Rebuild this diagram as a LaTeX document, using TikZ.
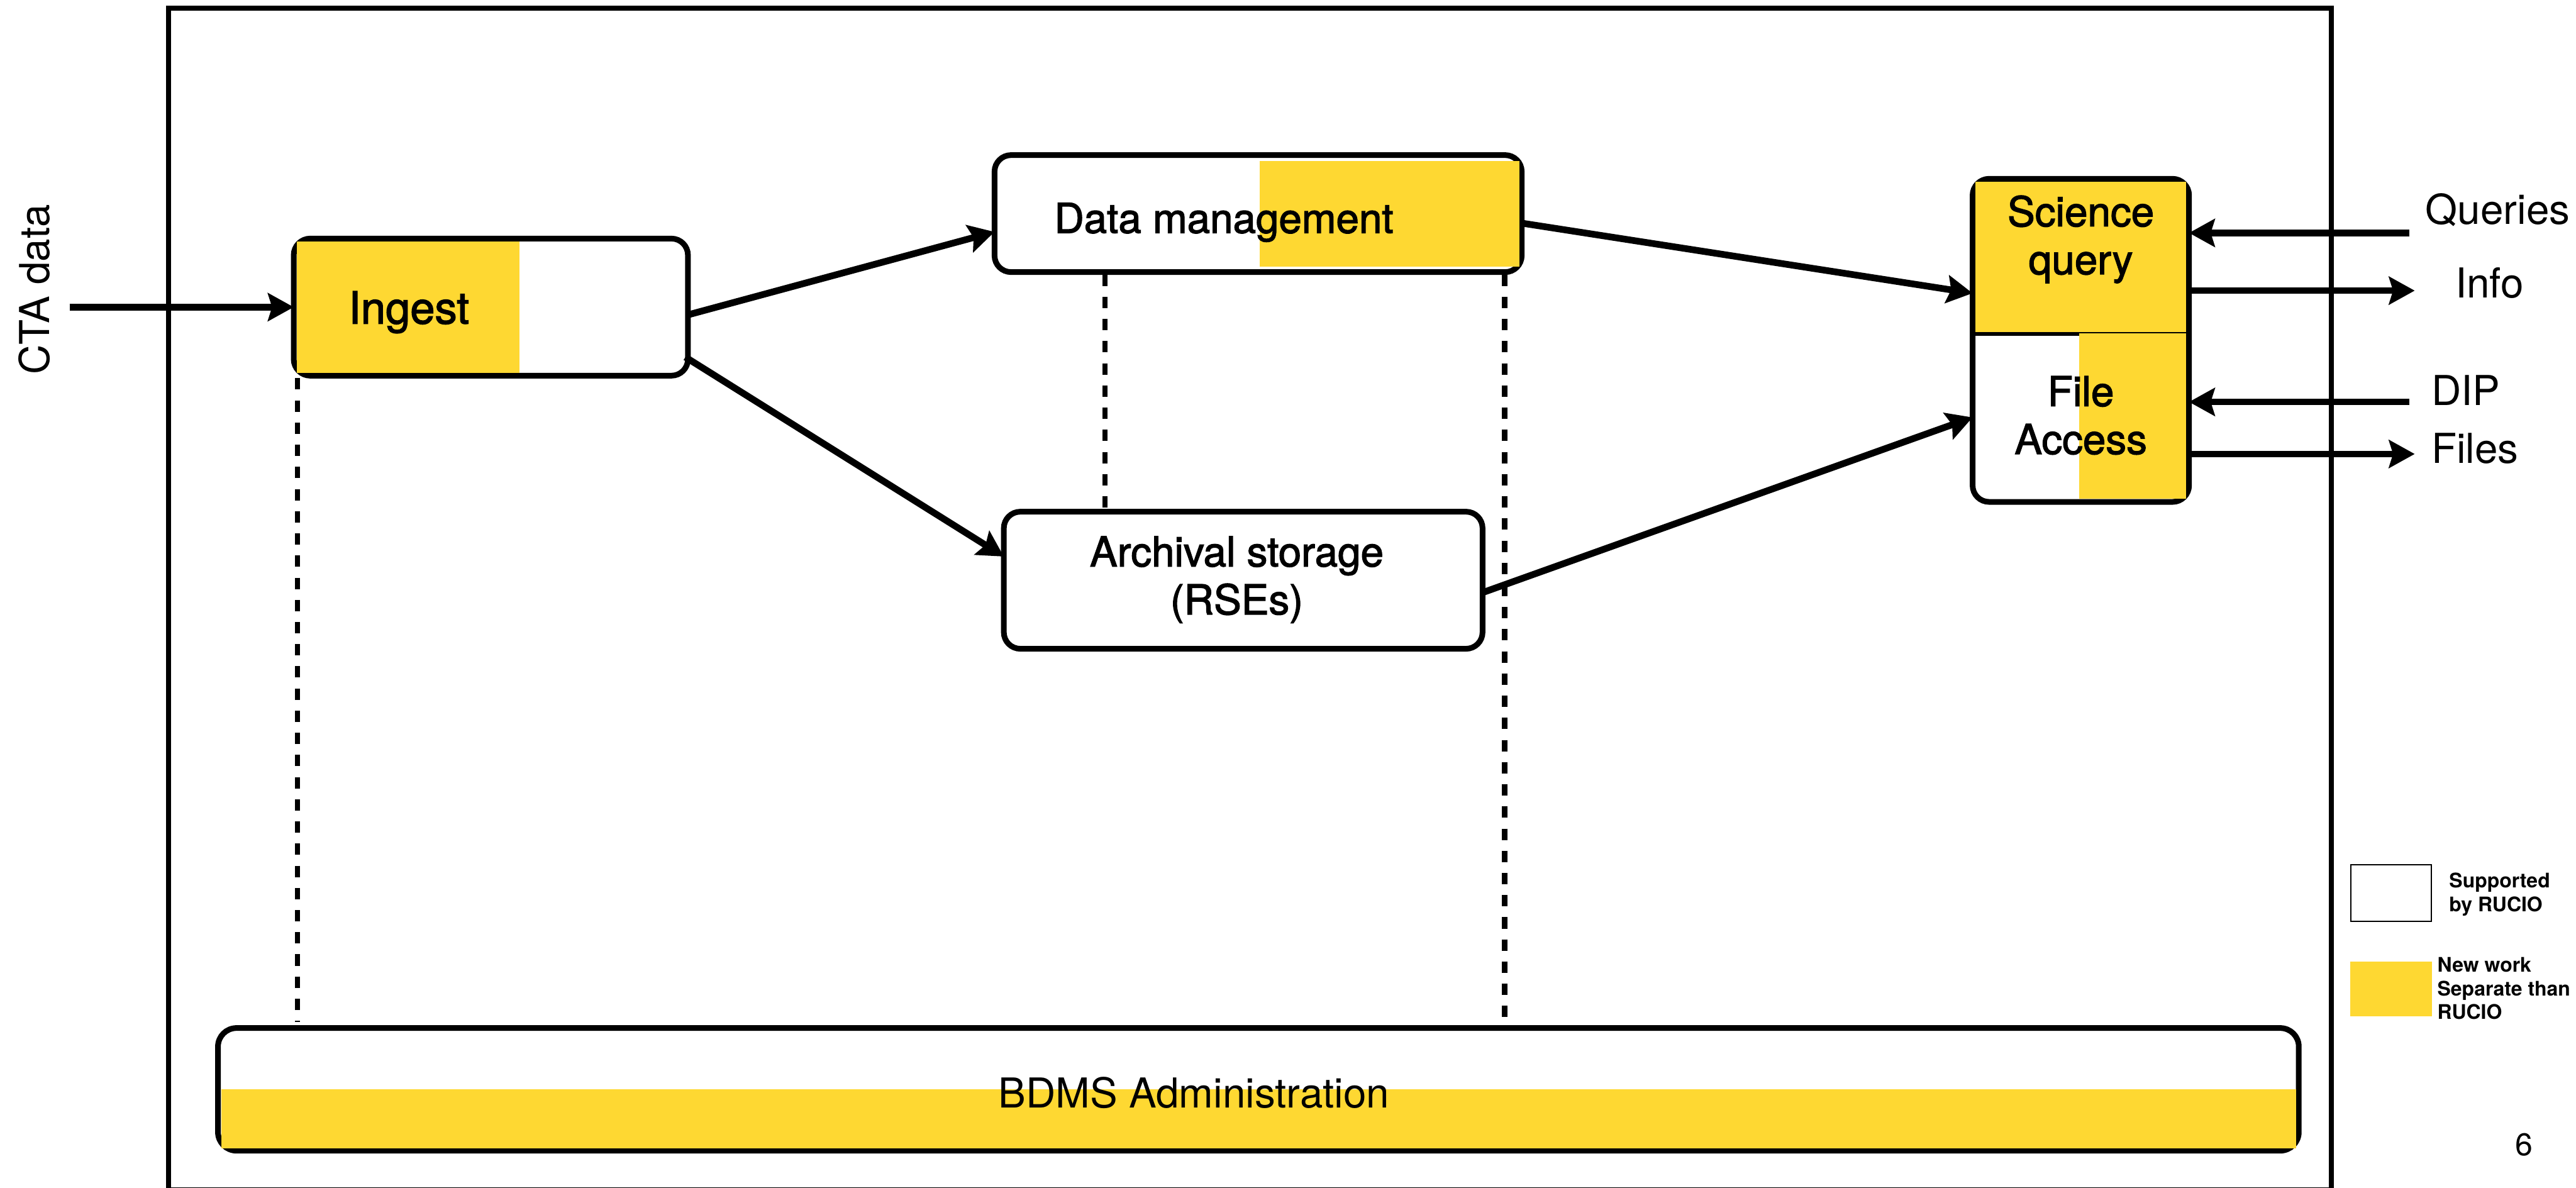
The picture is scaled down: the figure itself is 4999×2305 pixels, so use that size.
\documentclass[tikz,border=0pt]{standalone}
\usepackage{fontspec}
\setmainfont{TeX Gyre Heros}
\newfontfamily\boxfont{TeX Gyre Heros}[FakeBold=2]
\usetikzlibrary{arrows.meta,calc}
\definecolor{ylw}{RGB}{254,216,50}
\begin{document}
\begin{tikzpicture}[x=1pt,y=-1pt,
  every node/.style={inner sep=0pt,outer sep=0pt},
  box/.style={draw,line width=11pt,rounded corners=32pt},
  arr/.style={line width=13pt,-{Stealth[length=50pt,width=54pt,inset=8pt]}},
  dsh/.style={line width=10pt,dash pattern=on 22pt off 21pt},
  lbl/.style={font=\fontsize{80}{93}\selectfont,align=center},
  blbl/.style={font=\boxfont\fontsize{80}{93}\selectfont,align=center},
  leg/.style={font=\bfseries\fontsize{39}{46}\selectfont,align=left}]
\useasboundingbox (0,0) rectangle (4999,2305);
\fill[white] (0,0) rectangle (4999,2305);
% outer frame
\node[draw,line width=10pt,minimum width=4197pt,minimum height=2293pt] (frame) at (2425.5,1162.5) {};
% boxes
\node[box,minimum width=765pt,minimum height=266pt] (ingest) at (952.5,596) {};
\node[box,minimum width=1023pt,minimum height=227pt] (dm) at (2441.5,414.5) {};
\node[box,minimum width=929pt,minimum height=266pt] (arch) at (2412.5,1126) {};
\node[box,minimum width=420pt,minimum height=627pt] (sf) at (4038,660.5) {};
\node[box,rounded corners=36pt,minimum width=4038pt,minimum height=238pt] (bdms) at (2442,2114) {};
% yellow parts
\fill[ylw] (576,469) rectangle (1008,724);
\fill[ylw] (2445,312) rectangle (2948,518);
\fill[ylw] (3834,353) rectangle (4242,644);
\draw[line width=7pt] (3833,648) -- (4248,648);
\fill[ylw] (4035,647) rectangle (4242,968);
\fill[ylw] (429,2114) rectangle (4456,2228);
% texts
\node[font=\boxfont\fontsize{86}{100}\selectfont,anchor=base] (ingestlbl) at (793.5,628) {Ingest};
\node[blbl,anchor=base] (dmlbl) at (2375,452) {Data management};
\node[blbl] (archlbl) at (2400,1125) {Archival storage\\(RSEs)};
\node[blbl] (sqlbl) at (4038,464.5) {Science\\query};
\node[blbl] (falbl) at (4038,806) {File\\Access};
\node[lbl,anchor=base] (bdmslbl) at (2317,2150) {BDMS Administration};
\node[lbl,rotate=90,anchor=base] (cta) at (96,562) {CTA data};
\node[lbl,anchor=base] (queries) at (4847,435) {Queries};
\node[lbl,anchor=base] (info) at (4831,578) {Info};
\node[lbl,anchor=base] (dip) at (4785,787) {DIP};
\node[lbl,anchor=base] (files) at (4803,899) {Files};
% free ends
\coordinate (ctain) at (135,596);
\coordinate (qin) at (4676,452);
\coordinate (iout) at (4686,564);
\coordinate (dipin) at (4676,780);
\coordinate (fout) at (4686,881);
% arrows
\draw[arr] (ctain) -- (ingest.west);
\draw[arr] ($(ingest.east)+(0,15)$) -- ($(dm.west)+(0,35.5)$);
\draw[arr] ($(ingest.east)+(-5,97)$) -- ($(arch.west)+(0,-46)$);
\draw[arr] ($(dm.east)+(0,18.5)$) -- ($(sf.west)+(0,-91.5)$);
\draw[arr] ($(arch.east)+(0,24)$) -- ($(sf.west)+(0,149.5)$);
\draw[arr] (qin) -- ($(sf.east)+(0,-208.5)$);
\draw[arr] ($(sf.east)+(0,-96.5)$) -- (iout);
\draw[arr] (dipin) -- ($(sf.east)+(0,119.5)$);
\draw[arr] ($(sf.east)+(0,220.5)$) -- (fout);
% dashed links
\draw[dsh] ($(ingest.south west)+(7,5)$) -- ($(bdms.north west)+(154,-12)$);
\draw[dsh] ($(dm.south west)+(214,5)$) -- ($(arch.north west)+(196,-5)$);
\draw[dsh] ($(dm.south west)+(990,5)$) -- ($(bdms.north west)+(2497,-6)$);
% legend
\node[draw,line width=2.5pt,minimum width=156pt,minimum height=110pt] (legw) at (4640,1733) {};
\node[fill=ylw,minimum width=158pt,minimum height=106pt] (legy) at (4640,1919) {};
\node[leg,anchor=west] (leg1) at (4753,1735.5) {Supported\\by RUCIO};
\node[leg,anchor=west] (leg2) at (4730,1918) {New work\\Separate than\\RUCIO};
\node[font=\fontsize{61}{70}\selectfont,anchor=base] (pg) at (4898,2242) {6};
\end{tikzpicture}
\end{document}
